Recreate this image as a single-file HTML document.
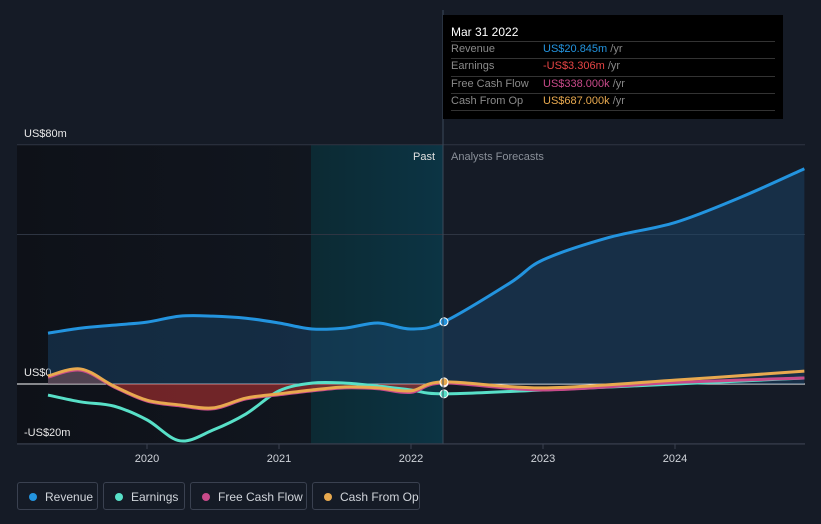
<!DOCTYPE html>
<html><head><meta charset="utf-8"><style>
body{margin:0;background:#151b26;width:821px;height:524px;overflow:hidden;font-family:"Liberation Sans",sans-serif}
.lg{position:absolute;top:482px;height:28px;border:1px solid #3a4150;border-radius:3px;color:#d0d4da;font-size:12px;line-height:28px;box-sizing:border-box;padding-left:27px}
.lg i{position:absolute;left:11px;top:10px;width:8px;height:8px;border-radius:50%}
</style></head><body>
<svg width="821" height="524" style="position:absolute;left:0;top:0">
<defs>
<linearGradient id="pastg" x1="0" x2="1"><stop offset="0" stop-color="#0e1118"/><stop offset="1" stop-color="#11161f"/></linearGradient>
<linearGradient id="hl" x1="0" x2="1"><stop offset="0" stop-color="#0c2a33"/><stop offset="1" stop-color="#0c3444"/></linearGradient>
<clipPath id="below"><rect x="0" y="384" width="821" height="140"/></clipPath>
<clipPath id="above"><rect x="0" y="0" width="821" height="384"/></clipPath>
</defs>
<rect x="17" y="145" width="294" height="299" fill="url(#pastg)"/>
<rect x="311" y="145" width="132" height="299" fill="url(#hl)"/>
<g id="grid"></g>
<g id="series"></g>
<line x1="443" y1="10" x2="443" y2="444" stroke="#3a4a5a" stroke-width="1"/>
<text x="435" y="160" fill="#e0e0e0" font-size="11" text-anchor="end">Past</text>
<text x="451" y="160" fill="#8a9099" font-size="11">Analysts Forecasts</text>
<g id="xt"></g>
</svg>
<div style="position:absolute;left:443px;top:15px;width:340px;height:104px;background:#000;color:#fff;font-size:11px">
<div style="position:absolute;left:8px;top:10px;font-size:12px">Mar 31 2022</div>
<div style="position:absolute;left:8px;right:8px;top:26px;border-top:1px solid #333"></div>
<div style="position:absolute;left:8px;right:8px;top:43px;border-top:1px solid #333"></div>
<div style="position:absolute;left:8px;right:8px;top:61px;border-top:1px solid #333"></div>
<div style="position:absolute;left:8px;right:8px;top:78px;border-top:1px solid #333"></div>
<div style="position:absolute;left:8px;right:8px;top:95px;border-top:1px solid #333"></div>
<div style="position:absolute;left:8px;top:28px;color:#8a8a8a">Revenue</div><div style="position:absolute;left:100px;top:28px;color:#2394df">US$20.845m <span style="color:#888">/yr</span></div>
<div style="position:absolute;left:8px;top:45px;color:#8a8a8a">Earnings</div><div style="position:absolute;left:100px;top:45px;color:#e64545">-US$3.306m <span style="color:#888">/yr</span></div>
<div style="position:absolute;left:8px;top:63px;color:#8a8a8a">Free Cash Flow</div><div style="position:absolute;left:100px;top:63px;color:#c84a8a">US$338.000k <span style="color:#888">/yr</span></div>
<div style="position:absolute;left:8px;top:80px;color:#8a8a8a">Cash From Op</div><div style="position:absolute;left:100px;top:80px;color:#e8a94f">US$687.000k <span style="color:#888">/yr</span></div>
</div>
<div class="lg" style="left:17px;width:81px"><i style="background:#2394df"></i>Revenue</div>
<div class="lg" style="left:103px;width:82px"><i style="background:#58e0c8"></i>Earnings</div>
<div class="lg" style="left:190px;width:117px"><i style="background:#c84a8a"></i>Free Cash Flow</div>
<div class="lg" style="left:312px;width:108px"><i style="background:#e8a94f"></i>Cash From Op</div>
<script>
const years=[2019.25,2019.5,2019.75,2020,2020.25,2020.5,2020.75,2021,2021.25,2021.5,2021.75,2022,2022.25,2022.75,2023,2023.5,2024,2024.5,2024.98];
const revenue=[17,18.7,19.7,20.7,22.7,22.7,22,20.4,18.4,18.7,20.4,18.4,20.8,33.8,41.5,49,54,62.5,72];
const earnYears=[2019.25,2019.5,2019.75,2020,2020.25,2020.5,2020.75,2021,2021.25,2021.5,2021.75,2022,2022.25,2023,2024,2024.98];
const earnings=[-3.7,-6,-7.4,-12,-19,-15.4,-10,-2.3,0.3,0.3,-0.7,-2,-3.3,-2,0,2];
const cashFromOp=[2.7,5,-0.7,-5.4,-7,-8,-4.7,-3.3,-2,-1,-1.3,-2.3,0.7,-1.3,1.3,4.3];
const fcf=[2.3,4.6,-1,-5.7,-7.3,-8.3,-5,-3.6,-2.3,-1.3,-1.6,-2.8,0.34,-2,0.5,2];
const yTicks=[80,50,0,-20];
const yLabels=["US$80m","","US$0","-US$20m"];
const xTicks=[2020,2021,2022,2023,2024];
const X=t=>147+(t-2020)*132, Y=v=>384-v*2.99;
const NS="http://www.w3.org/2000/svg";
function mk(tag,a,p){const e=document.createElementNS(NS,tag);for(const k in a)e.setAttribute(k,a[k]);p.appendChild(e);return e;}
function smooth(xs,vs){const p=xs.map((t,i)=>[X(t),Y(vs[i])]);let d="M"+p[0][0]+","+p[0][1];
for(let i=0;i<p.length-1;i++){const p0=p[i-1]||p[i],p1=p[i],p2=p[i+1],p3=p[i+2]||p2;
d+=` C${p1[0]+(p2[0]-p0[0])/6},${p1[1]+(p2[1]-p0[1])/6} ${p2[0]-(p3[0]-p1[0])/6},${p2[1]-(p3[1]-p1[1])/6} ${p2[0]},${p2[1]}`;}return d;}
const g=document.getElementById('grid'),s=document.getElementById('series'),xt=document.getElementById('xt');
yTicks.forEach((v,i)=>{const l=mk('line',{x1:17,x2:805,y1:Y(v),y2:Y(v),stroke:v===0?'#ffffff':'#2e3542','stroke-width':1},g);

if(yLabels[i]){const t=mk('text',{x:24,y:Y(v)-8,fill:'#e8e8e8','font-size':11},g);t.textContent=yLabels[i];
}});
mk('line',{x1:17,x2:805,y1:444,y2:444,stroke:'#3a4150'},xt);
xTicks.forEach(v=>{mk('line',{x1:X(v),x2:X(v),y1:444,y2:449,stroke:'#3a4150'},xt);
const t=mk('text',{x:X(v),y:462,fill:'#d0d4da','font-size':11,'text-anchor':'middle'},xt);t.textContent=v;
});
const rd=smooth(years,revenue);
const ra=mk('path',{d:rd+` L${X(years[years.length-1])},${Y(0)} L${X(years[0])},${Y(0)} Z`,fill:'#1a4a70','fill-opacity':0.45},s);

const base=` L${X(2022.25)},${Y(0)} L${X(earnYears[0])},${Y(0)} Z`;
const past=earnYears.filter(t=>t<=2022.25).length;
const cdp=smooth(earnYears.slice(0,past),cashFromOp.slice(0,past));
mk('path',{d:cdp+base,fill:'#b03030','fill-opacity':0.6,'clip-path':'url(#below)'},s);
mk('path',{d:cdp+base,fill:'#c07070','fill-opacity':0.35,'clip-path':'url(#above)'},s);
[[years,revenue,'#2394df','revenue-line'],[earnYears,earnings,'#58e0c8','earnings-line'],[earnYears,fcf,'#c84a8a','fcf-line'],[earnYears,cashFromOp,'#e8a94f','cash-from-op-line']].forEach(([xs,vs,c,n])=>{
const p=mk('path',{d:smooth(xs,vs),fill:'none',stroke:c,'stroke-width':3},s);

const i=xs.indexOf(2022.25);const dot=mk('circle',{cx:X(2022.25),cy:Y(vs[i]),r:4,fill:c,stroke:'#fff','stroke-width':1},s);
});
</script>
</body></html>
